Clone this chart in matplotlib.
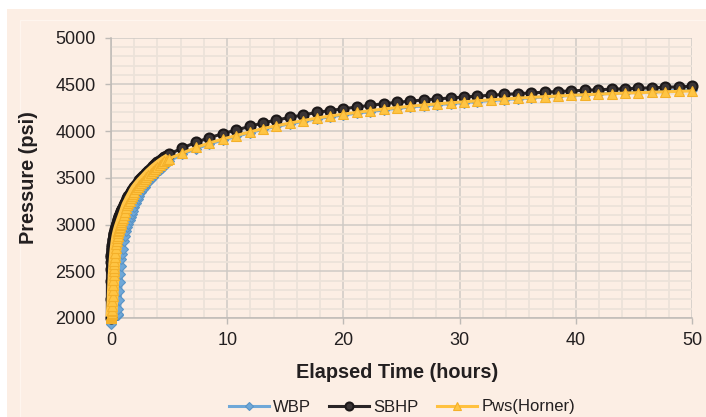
import matplotlib
matplotlib.use("Agg")
import matplotlib.pyplot as plt
from matplotlib.patches import Rectangle
from matplotlib.lines import Line2D
from matplotlib.ticker import MultipleLocator

plt.rcParams['font.family'] = ['Liberation Sans', 'DejaVu Sans']

# Elapsed shut-in time (hours)
hours = [
    0, 0.005, 0.01, 0.015, 0.02, 0.03, 0.04, 0.05, 0.06, 0.07,
    0.08, 0.1, 0.12, 0.14, 0.16, 0.18, 0.2, 0.22, 0.24, 0.26,
    0.28, 0.3, 0.33, 0.36, 0.4, 0.44, 0.48, 0.52, 0.56, 0.6,
    0.64, 0.68, 0.72, 0.76, 0.8, 0.85, 0.9, 0.95, 1.0, 1.1,
    1.2, 1.3, 1.4, 1.5, 1.6, 1.7, 1.8, 1.9, 2.0, 2.15,
    2.3, 2.45, 2.6, 2.75, 2.9, 3.05, 3.2, 3.4, 3.6, 3.8,
    4.0, 4.2, 4.4, 4.6, 4.8,
    5.0, 6.15, 7.31, 8.46, 9.62, 10.77, 11.92, 13.08, 14.23, 15.38,
    16.54, 17.69, 18.85, 20.0, 21.15, 22.31, 23.46, 24.62, 25.77, 26.92,
    28.08, 29.23, 30.38, 31.54, 32.69, 33.85, 35.0, 36.15, 37.31, 38.46,
    39.62, 40.77, 41.92, 43.08, 44.23, 45.38, 46.54, 47.69, 48.85, 50.0,
]

# Wellbore pressure (psi)
wbp = [
    1940, 1985, 2005, 2010, 2012, 2013, 2014, 2015, 2016, 2017,
    2018, 2019, 2020, 2021, 2022, 2022, 2023, 2023, 2024, 2024,
    2025, 2025, 2026, 2026, 2027, 2028, 2029, 2030, 2032, 2045,
    2100, 2190, 2290, 2390, 2470, 2560, 2630, 2690, 2740, 2820,
    2880, 2930, 2972, 3008, 3045, 3080, 3115, 3150, 3185, 3230,
    3272, 3310, 3345, 3378, 3405, 3430, 3455, 3485, 3512, 3538,
    3562, 3587, 3610, 3632, 3655,
    3680, 3755, 3812, 3862, 3905, 3944, 3982, 4020, 4050, 4078,
    4105, 4132, 4153, 4173, 4192, 4210, 4228, 4244, 4258, 4272,
    4284, 4295, 4306, 4317, 4328, 4338, 4348, 4357, 4366, 4374,
    4382, 4390, 4397, 4404, 4411, 4417, 4423, 4429, 4435, 4441,
]

# Sandface bottom-hole pressure (psi)
sbhp = [
    2000, 2200, 2400, 2520, 2600, 2650, 2675, 2695, 2710, 2725,
    2738, 2760, 2780, 2798, 2815, 2832, 2848, 2862, 2876, 2890,
    2903, 2915, 2932, 2948, 2968, 2986, 3003, 3019, 3034, 3048,
    3062, 3076, 3090, 3103, 3116, 3132, 3148, 3163, 3178, 3205,
    3231, 3256, 3280, 3302, 3324, 3345, 3365, 3383, 3400, 3427,
    3450, 3473, 3495, 3515, 3535, 3555, 3575, 3600, 3623, 3645,
    3665, 3685, 3703, 3720, 3737,
    3752, 3820, 3880, 3930, 3972, 4012, 4050, 4088, 4118, 4147,
    4173, 4200, 4220, 4240, 4258, 4276, 4293, 4308, 4321, 4334,
    4345, 4355, 4365, 4375, 4384, 4393, 4401, 4409, 4417, 4424,
    4431, 4437, 4443, 4449, 4454, 4459, 4464, 4469, 4474, 4480,
]

# Horner-extrapolated static pressure (psi)
pws = [
    2000, 2002, 2005, 2008, 2012, 2020, 2030, 2042, 2056, 2072,
    2090, 2130, 2185, 2240, 2295, 2350, 2405, 2455, 2500, 2540,
    2578, 2612, 2658, 2700, 2748, 2790, 2826, 2856, 2882, 2905,
    2926, 2945, 2962, 2978, 2993, 3011, 3030, 3048, 3065, 3100,
    3135, 3172, 3205, 3230, 3255, 3280, 3303, 3325, 3350, 3380,
    3405, 3428, 3450, 3470, 3490, 3510, 3530, 3555, 3578, 3600,
    3620, 3640, 3658, 3675, 3690,
    3705, 3765, 3825, 3873, 3915, 3953, 3990, 4028, 4057, 4086,
    4113, 4140, 4162, 4182, 4201, 4219, 4237, 4252, 4266, 4280,
    4292, 4303, 4314, 4325, 4335, 4344, 4353, 4361, 4369, 4376,
    4383, 4390, 4396, 4402, 4407, 4412, 4417, 4421, 4426, 4430,
]

series_names = ["WBP", "SBHP", "Pws(Horner)"]
x_ticks = [0, 10, 20, 30, 40, 50]
y_ticks = [2000, 2500, 3000, 3500, 4000, 4500, 5000]

W, H = 706, 417
fig = plt.figure(figsize=(W / 100, H / 100), dpi=100)
fig.patch.set_facecolor('white')

# Peach chart panel
fig.patches.append(Rectangle((7 / W, 0), 1 - 7 / W, 1 - 9 / H, transform=fig.transFigure,
                             facecolor='#FCEEE4', edgecolor='none', zorder=-10))
fig.patches.append(Rectangle((20 / W, -0.01), 1, 1 - 20 / H + 0.01, transform=fig.transFigure,
                             facecolor='none', edgecolor='#FEF5EE', lw=0.9, zorder=-9))

ax = fig.add_axes([111 / W, 1 - 318 / H, 581 / W, 280.3 / H])
ax.set_facecolor('none')
ax.set_xlim(0, 50)
ax.set_ylim(2000, 5000)
ax.set_xticks(x_ticks)
ax.set_yticks(y_ticks)
ax.xaxis.set_minor_locator(MultipleLocator(2))
ax.yaxis.set_minor_locator(MultipleLocator(100))
ax.set_axisbelow(True)
ax.grid(which='minor', color='#ECE2D9', lw=1.3)
ax.grid(which='major', color='#CFCAC5', lw=1.1)
ax.tick_params(which='minor', length=0)
ax.tick_params(which='major', direction='out', length=4, width=1, color='#BEBAB6',
               labelsize=13, labelcolor='#231F20')
ax.tick_params(axis='y', pad=7)
ax.tick_params(axis='x', pad=6)
for side in ('top', 'right'):
    ax.spines[side].set_visible(False)
for side in ('left', 'bottom'):
    ax.spines[side].set_color('#BEBAB6')
    ax.spines[side].set_linewidth(1.1)

styles = [
    dict(color='#6FA8D8', marker='D', ms=4.8, mfc='#6FA8D8', mec='#5A94C6', mew=0.8),
    dict(color='#2A2526', marker='o', ms=7.2, mfc='#3A3435', mec='#1C1819', mew=1.5),
    dict(color='#FFC13F', marker='^', ms=7.9, mfc='#FFC544', mec='#F4B02A', mew=0.8),
]
# Width of the solid band formed where early-time markers crowd together
band_widths = [4.2, 7.5, 8.4]
band_colors = ['#78AEDB', '#2E2829', '#FFC44A']
n_dense = sum(1 for t in hours if t <= 5.0)

data = [wbp, sbhp, pws]
for i, (vals, st, bw, bc) in enumerate(zip(data, styles, band_widths, band_colors)):
    ax.plot(hours[:n_dense], vals[:n_dense], lw=bw, color=bc, solid_capstyle='butt',
            solid_joinstyle='round', clip_on=False, zorder=3 + i)
    ax.plot(hours, vals, lw=2.2, clip_on=False, zorder=3 + i, **st)

fig.text(397 / W, 1 - 373 / H, 'Elapsed Time (hours)', ha='center', va='center',
         fontsize=14.3, fontweight='bold', color='#231F20')
fig.text(29 / W, 1 - 178 / H, 'Pressure (psi)', ha='center', va='center', rotation=90,
         fontsize=14.3, fontweight='bold', color='#231F20')

handles = []
for name, st in zip(series_names, styles):
    s = dict(st)
    s['ms'] = s['ms'] * 0.8
    handles.append(Line2D([0], [0], lw=2.2, label=name, **s))
fig.legend(handles=handles, loc='center', bbox_to_anchor=(402 / W, 1 - 407 / H), ncol=3,
           frameon=False, fontsize=12, handlelength=2.4, handletextpad=0.25,
           columnspacing=1.1, labelcolor='#231F20')

fig.savefig('out.png', dpi=100, facecolor=fig.get_facecolor())
